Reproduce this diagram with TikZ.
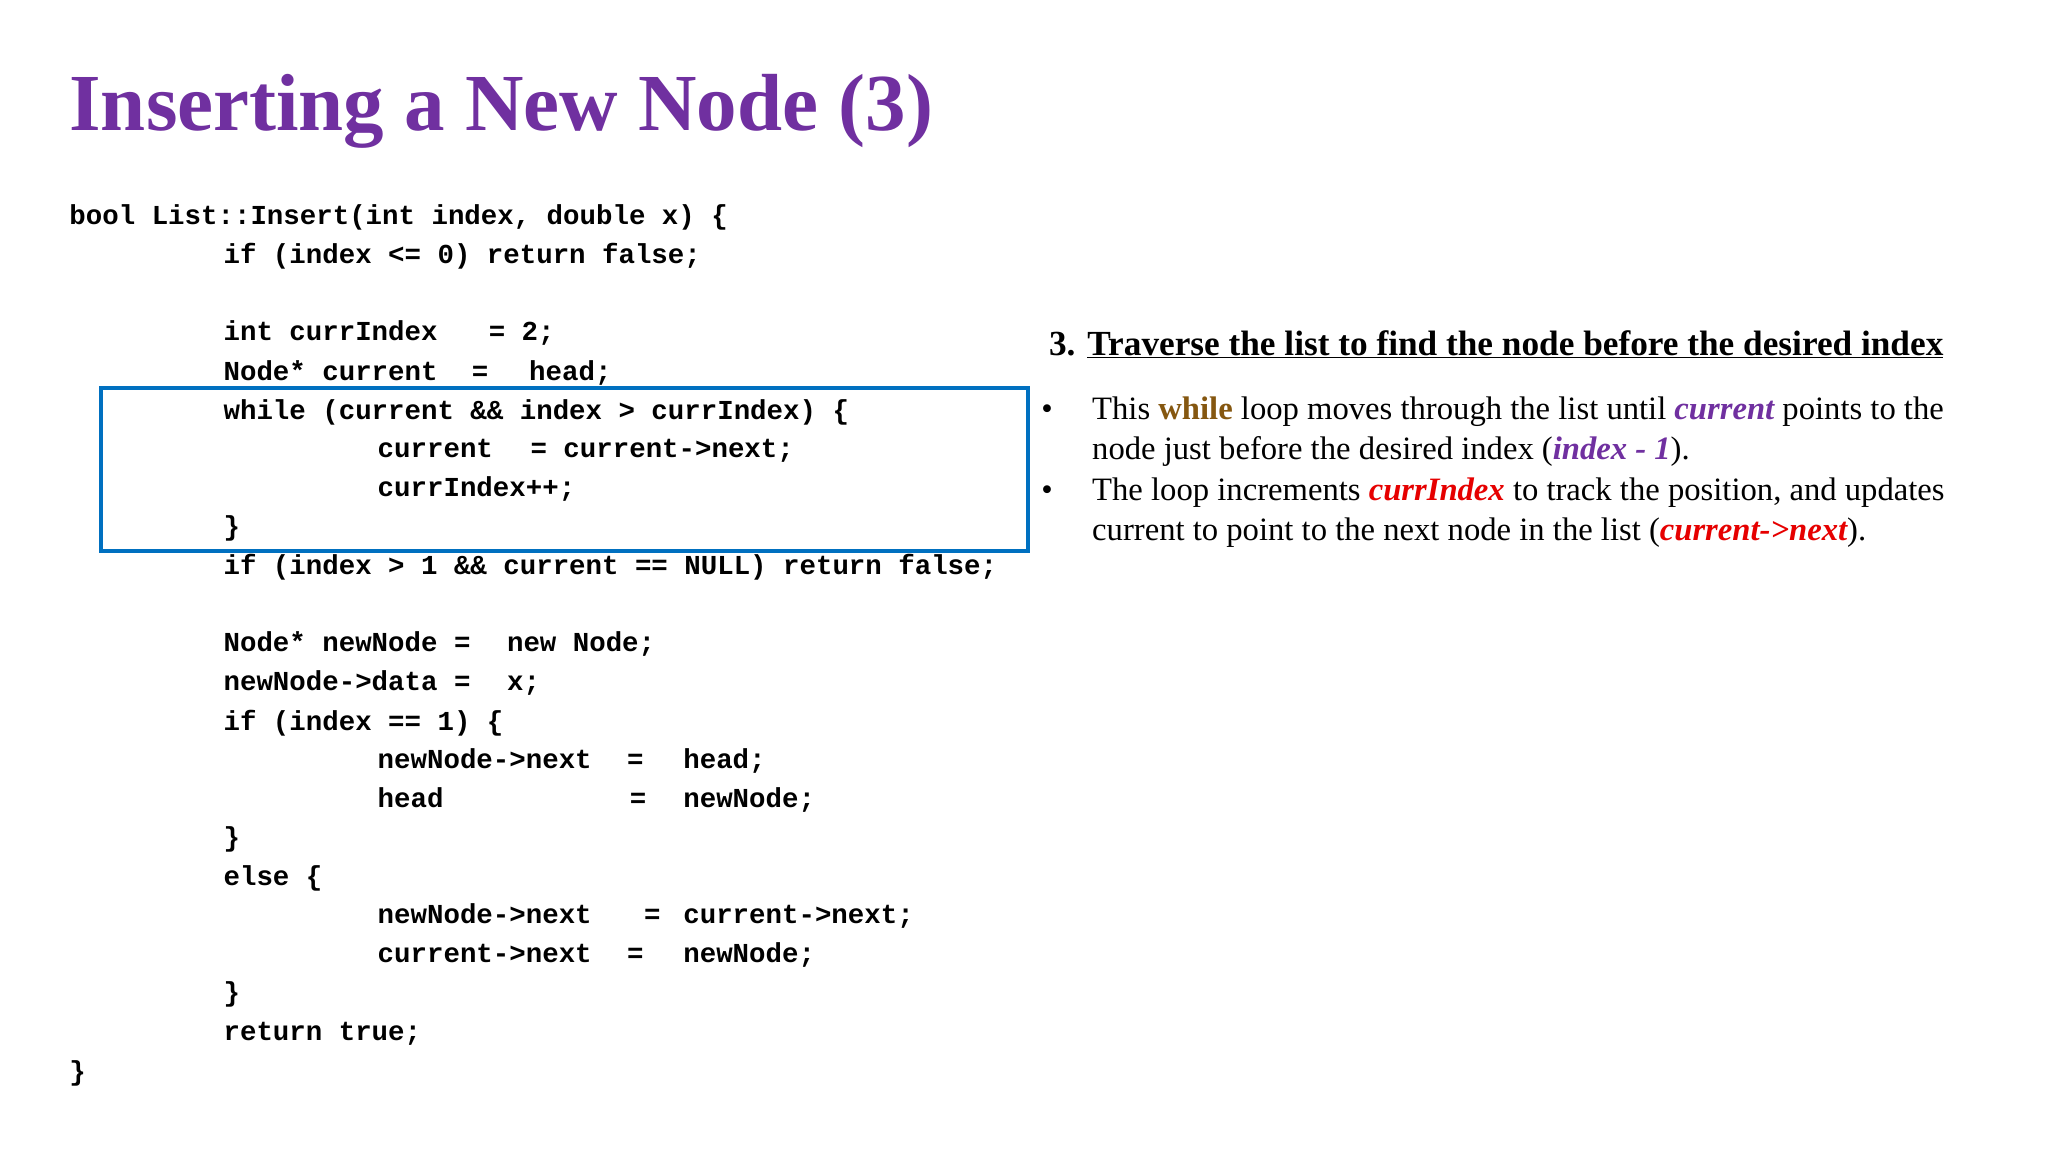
\documentclass[tikz,border=0pt]{standalone}
\usepackage{fontspec}
\setmainfont{Liberation Serif}
\newfontfamily\codefont{Liberation Mono}
\definecolor{ttl}{RGB}{112,48,160}
\definecolor{bx}{RGB}{0,112,192}
\definecolor{brn}{RGB}{133,87,16}
\definecolor{rd}{RGB}{230,0,0}
\tikzset{code/.style={anchor=base west,inner sep=0pt,font=\codefont\bfseries\fontsize{21}{25}\selectfont},
 txt/.style={anchor=base west,inner sep=0pt,font=\fontsize{25}{30}\selectfont}}
\newcommand\cl[3]{\node[code] at (#1,#2+7) {#3};}
\begin{document}
\begin{tikzpicture}[x=1pt,y=-1pt]
\useasboundingbox[fill=white] (0,0) rectangle (1568,882);
\node[anchor=base west,inner sep=0pt,text=ttl,font=\bfseries\fontsize{62}{70}\selectfont] (title) at (53,100) {Inserting a New Node (3)};
\cl{53}{165}{bool List::Insert(int index, double x) \{}
\cl{171}{195}{if (index <= 0) return false;}
\cl{171}{254}{int currIndex}\cl{374}{254}{= 2;}
\cl{171}{284}{Node* current}\cl{361}{284}{=}\cl{405}{284}{head;}
\cl{171}{314}{while (current \&\& index > currIndex) \{}
\cl{289}{343}{current}\cl{406}{343}{= current->next;}
\cl{289}{373}{currIndex++;}
\cl{171}{403}{\}}
\cl{171}{433}{if (index > 1 \&\& current == NULL) return false;}
\cl{171}{492}{Node* newNode =}\cl{388}{492}{new Node;}
\cl{171}{522}{newNode->data =}\cl{388}{522}{x;}
\cl{171}{552}{if (index == 1) \{}
\cl{289}{581}{newNode->next}\cl{480}{581}{=}\cl{523}{581}{head;}
\cl{289}{611}{head}\cl{482}{611}{=}\cl{523}{611}{newNode;}
\cl{171}{641}{\}}
\cl{171}{671}{else \{}
\cl{289}{700}{newNode->next}\cl{493}{700}{=}\cl{523}{700}{current->next;}
\cl{289}{730}{current->next}\cl{480}{730}{=}\cl{523}{730}{newNode;}
\cl{171}{760}{\}}
\cl{171}{790}{return true;}
\cl{53}{820}{\}}
\draw[bx,line width=3pt] (77,297) rectangle (787,422);
\node[anchor=base west,inner sep=0pt,font=\bfseries\fontsize{27}{32}\selectfont] (head) at (803,272) {3. \underline{Traverse the list to find the node before the desired index}};
\node[txt] (b1) at (797,321) {\textbullet};
\node[txt] (b2) at (797,383) {\textbullet};
\node[txt] (l1) at (836,321) {This \textbf{\color{brn}while} loop moves through the list until \textbf{\textit{\color{ttl}current}} points to the};
\node[txt] (l2) at (836,352) {node just before the desired index (\textbf{\textit{\color{ttl}index - 1}}).};
\node[txt] (l3) at (836,383) {The loop increments \textbf{\textit{\color{rd}currIndex}} to track the position, and updates};
\node[txt] (l4) at (836,414) {current to point to the next node in the list (\textbf{\textit{\color{rd}current->next}}).};
\end{tikzpicture}
\end{document}
